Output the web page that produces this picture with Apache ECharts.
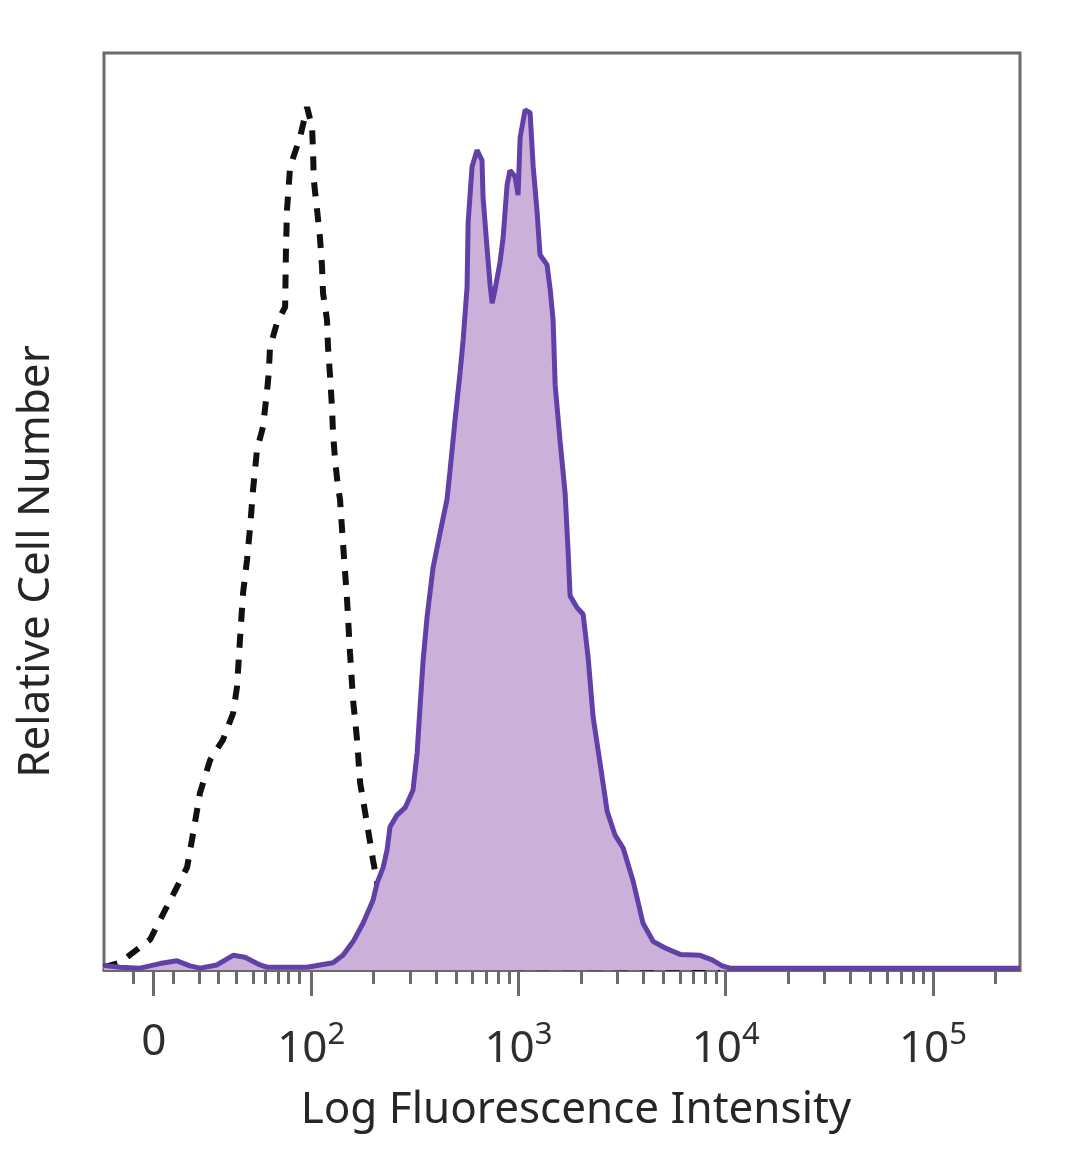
<!DOCTYPE html>
<html><head><meta charset="utf-8">
<script src="https://cdn.jsdelivr.net/npm/echarts@6/dist/echarts.min.js"></script>
<style>html,body{margin:0;padding:0;background:#fff}#c{width:1080px;height:1169px}</style>
</head><body><div id="c"></div>
<script>
// x values are in display decades (10^2 -> 2, 10^3 -> 3 ...), y is relative cell number (% of max)
const isotypeX = [1.000,1.077,1.222,1.319,1.401,1.430,1.463,1.512,1.574,1.623,1.642,1.656,1.671,1.690,1.705,1.719,1.738,1.767,1.787,1.795,1.801,1.835,1.874,1.878,1.883,1.898,1.946,1.980,2.004,2.009,2.012,2.028,2.042,2.052,2.057,2.076,2.081,2.091,2.100,2.105,2.115,2.129,2.139,2.153,2.173,2.187,2.202,2.221,2.236,2.269,2.298,2.318,2.356,2.404,2.477,2.573,2.766,3.008,3.394,3.973];
const isotypeY = [0.3,0.8,3.3,7.6,11.2,14.9,19.3,22.9,25.1,28.0,30.9,36.0,41.1,44.7,48.3,52.3,56.7,59.2,63.2,65.1,67.9,70.6,72.3,78.5,82.9,87.6,90.8,94.1,91.9,89.1,86.2,82.9,79.9,76.7,73.8,70.9,67.9,64.7,61.4,58.6,55.6,52.7,51.3,46.6,40.3,34.6,29.4,25.1,20.4,16.0,12.0,9.5,6.5,3.8,2.0,0.9,0.4,0.3,0.3,0.2];
const stainedX = [1.000,1.077,1.174,1.270,1.352,1.415,1.463,1.545,1.623,1.680,1.753,1.787,1.980,2.105,2.153,2.202,2.250,2.298,2.318,2.347,2.366,2.380,2.414,2.453,2.491,2.511,2.525,2.540,2.559,2.588,2.622,2.655,2.670,2.694,2.718,2.733,2.752,2.757,2.776,2.800,2.824,2.829,2.848,2.863,2.873,2.887,2.911,2.926,2.945,2.959,2.984,2.998,3.008,3.032,3.056,3.071,3.090,3.104,3.138,3.153,3.167,3.177,3.201,3.225,3.239,3.249,3.283,3.312,3.336,3.360,3.394,3.428,3.466,3.505,3.553,3.601,3.650,3.708,3.780,3.876,3.934,3.983,4.021,5.420];
const stainedY = [0.5,0.3,0.2,0.7,1.0,0.45,0.2,0.55,1.6,1.4,0.55,0.3,0.3,0.8,1.6,3.1,5.1,7.6,9.5,11.2,13.1,15.6,16.9,17.7,19.6,23.7,28.7,33.8,38.5,43.9,47.7,51.3,54.5,60.0,65.1,68.7,74.5,81.5,87.6,89.4,88.3,84.3,78.8,74.7,72.7,74.2,77.2,79.9,85.6,87.2,86.5,84.5,90.8,93.8,93.5,87.6,82.6,78.0,76.9,74.2,70.9,63.8,57.6,52.0,45.9,40.8,39.5,38.8,34.1,27.6,22.5,17.3,14.7,13.3,9.7,5.1,3.1,2.4,1.7,1.6,1.1,0.45,0.2,0.2];
const majorTicks = [1.24, 2, 3, 4, 5];
const tickLabels = ['0', '10^2', '10^3', '10^4', '10^5'];
const lowMinorTicks = [1.14, 1.333, 1.46, 1.55, 1.64, 1.72, 1.78, 1.84, 1.89, 1.94];

const minorTicks = lowMinorTicks.slice();
for (let d = 2; d <= 5; d++) {
  for (let k = 2; k <= 9; k++) {
    const v = d + Math.log10(k);
    if (v < 5.42) minorTicks.push(+v.toFixed(4));
  }
}
const FONT = '"Noto Sans", "Open Sans", sans-serif';
const AXIS_COLOR = '#6b6b6b';
const toPairs = (xs, ys) => xs.map((x, i) => [x, ys[i]]);

const chart = echarts.init(document.getElementById('c'), null, {renderer: 'canvas'});
const gridBox = {left: 104, right: 60, top: 53, bottom: 199, containLabel: false, outerBoundsMode: 'none'};
chart.setOption({
  backgroundColor: '#ffffff',
  animation: false,
  grid: [
    Object.assign({show: true, borderColor: AXIS_COLOR, borderWidth: 3, backgroundColor: 'transparent'}, gridBox),
    Object.assign({show: false}, gridBox)
  ],
  xAxis: [
    {
      type: 'value', gridIndex: 0, min: 1.0, max: 5.42,
      name: 'Log Fluorescence Intensity', nameLocation: 'middle', nameGap: 118,
      nameTextStyle: {fontFamily: FONT, fontSize: 44, color: '#262626', padding: [0, 0, 0, 28]},
      axisLine: {show: true, onZero: false, lineStyle: {color: AXIS_COLOR, width: 3}},
      axisTick: {show: true, customValues: majorTicks, length: 26, lineStyle: {color: AXIS_COLOR, width: 3}},
      axisLabel: {
        show: true, customValues: majorTicks, margin: 50,
        formatter: function (v) {
          const i = majorTicks.findIndex(t => Math.abs(t - v) < 1e-6);
          if (i < 0) return '';
          const s = tickLabels[i].split('^');
          return s.length === 2 ? '{b|' + s[0] + '}{sup|' + s[1] + '}' : '{b|' + s[0] + '}';
        },
        rich: {
          b: {fontFamily: FONT, fontSize: 44, color: '#2e2e2e'},
          sup: {fontFamily: FONT, fontSize: 31, color: '#2e2e2e', padding: [0, 0, 28, 0]}
        }
      },
      splitLine: {show: false}
    },
    {
      type: 'value', gridIndex: 1, min: 1.0, max: 5.42,
      axisLine: {show: false},
      axisTick: {show: true, customValues: minorTicks, length: 14, lineStyle: {color: AXIS_COLOR, width: 3}},
      axisLabel: {show: false},
      splitLine: {show: false}
    }
  ],
  yAxis: [
    {
      type: 'value', gridIndex: 0, min: 0, max: 100,
      name: 'Relative Cell Number', nameLocation: 'middle', nameGap: 46,
      nameTextStyle: {fontFamily: FONT, fontSize: 44, color: '#262626', padding: [0, 100, 0, 0]},
      axisLine: {show: false}, axisTick: {show: false}, axisLabel: {show: false}, splitLine: {show: false}
    },
    {type: 'value', gridIndex: 1, min: 0, max: 100, show: false}
  ],
  series: [
    {
      name: 'Isotype', type: 'line', xAxisIndex: 0, yAxisIndex: 0,
      data: toPairs(isotypeX, isotypeY), showSymbol: false, symbol: 'none', z: 2,
      lineStyle: {color: '#111111', width: 6, type: [14, 12]}
    },
    {
      name: 'Stained', type: 'line', xAxisIndex: 0, yAxisIndex: 0,
      data: toPairs(stainedX, stainedY), showSymbol: false, symbol: 'none', z: 3,
      lineStyle: {color: '#6140a8', width: 5},
      areaStyle: {color: '#cbb1da', opacity: 1}
    }
  ]
});
</script>
</body></html>
